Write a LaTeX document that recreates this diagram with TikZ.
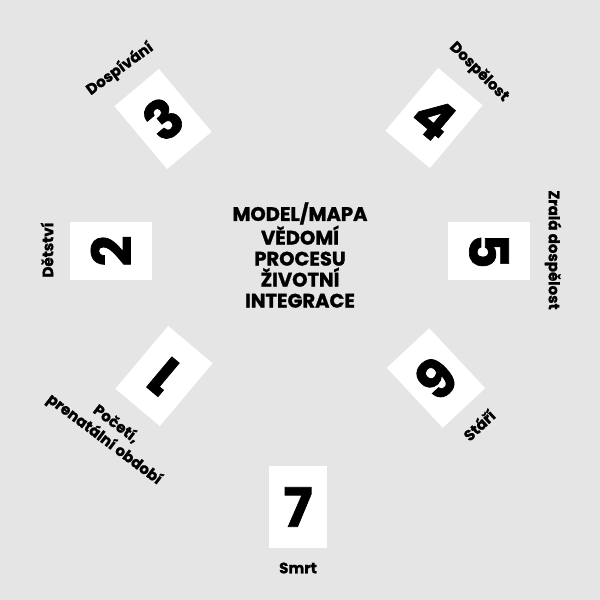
\documentclass[tikz,border=0pt]{standalone}
\usepackage{fontspec}
\setmainfont{Poppins}[BoldFeatures={FakeBold=1.3}]
\usepackage{xcolor}
\definecolor{paper}{HTML}{E5E5E5}

\begin{document}
\begin{tikzpicture}[x=1pt, y=-1pt,
        card/.style={fill=white, minimum width=58pt, minimum height=82pt, inner sep=0pt,
            font=\fontsize{54}{54}\selectfont\bfseries},
        phase/.style={align=center, inner sep=0pt, font=\fontsize{15}{19}\selectfont\bfseries}]
    \fill[paper] (0,0) rectangle (600,600);
    \foreach \n/\x/\y/\angle in {1/164/376/140, 2/111/251/90, 3/163/119/40, 4/434/118/-40, 5/489/251/-90, 6/436/378/-137, 7/298/507/0} {
        \node[card, rotate=\angle] (c\n) at (\x,\y) {\n};
    }

    \node[align=center, inner sep=0pt, font=\fontsize{19.5}{21}\selectfont\bfseries] (title) at (300,255)
        {MODEL/MAPA\\VĚDOMÍ\\PROCESU\\ŽIVOTNÍ\\INTEGRACE};

    \node[phase, rotate=-37] (l1) at (110,432) {Početí,\\prenatální období};
    \node[phase, rotate=90] (l2) at (47,250) {Dětství};
    \node[phase, rotate=36] (l3) at (120,69) {Dospívání};
    \node[phase, rotate=-45] (l4) at (479,72) {Dospělost};
    \node[phase, rotate=-90] (l5) at (553,250) {Zralá dospělost};
    \node[phase, rotate=43] (l6) at (479,425) {Stáří};
    \node[phase] (l7) at (298,568) {Smrt};
\end{tikzpicture}
\end{document}
